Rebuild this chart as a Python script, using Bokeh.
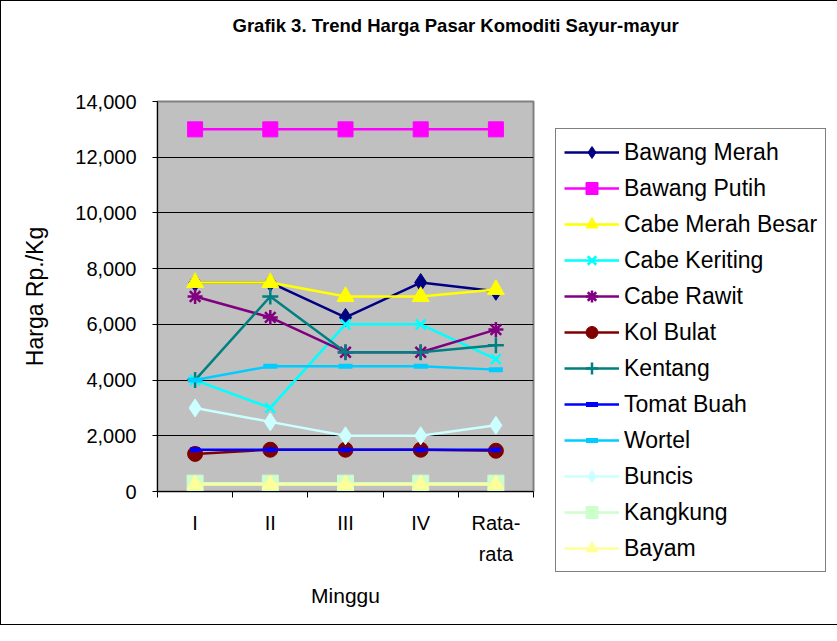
from bokeh.plotting import figure
from bokeh.models import Range1d, FixedTicker, NumeralTickFormatter, Legend, LegendItem
from bokeh.embed import file_html
from bokeh.resources import INLINE

# ---- data ----
week_labels = ["I", "II", "III", "IV", "Rata-\nrata"]
week_pos = [1, 2, 3, 4, 5]

bawang_merah = [7500, 7500, 6250, 7500, 7187.5]
bawang_putih = [13000, 13000, 13000, 13000, 13000]
cabe_merah_besar = [7500, 7500, 7000, 7000, 7250]
cabe_keriting = [4000, 3000, 6000, 6000, 4750]
cabe_rawit = [7000, 6250, 5000, 5000, 5812.5]
kol_bulat = [1350, 1500, 1500, 1500, 1462.5]
kentang = [4000, 7000, 5000, 5000, 5250]
tomat_buah = [1500, 1500, 1500, 1500, 1500]
wortel = [4000, 4500, 4500, 4500, 4375]
buncis = [3000, 2500, 2000, 2000, 2375]
kangkung = [300, 300, 300, 300, 300]
bayam = [250, 250, 250, 250, 250]

y_ticks = [0, 2000, 4000, 6000, 8000, 10000, 12000, 14000]

series = [
    ("Bawang Merah", bawang_merah, "#000080", "diamond", 18, "#000080"),
    ("Bawang Putih", bawang_putih, "#FF00FF", "square", 15, "#FF00FF"),
    ("Cabe Merah Besar", cabe_merah_besar, "#FFFF00", "triangle", 17, "#FFFF00"),
    ("Cabe Keriting", cabe_keriting, "#00FFFF", "x", 14, None),
    ("Cabe Rawit", cabe_rawit, "#800080", "asterisk", 15, None),
    ("Kol Bulat", kol_bulat, "#800000", "circle", 15, "#800000"),
    ("Kentang", kentang, "#008080", "cross", 16, None),
    ("Tomat Buah", tomat_buah, "#0000FF", "dash", 10, None),
    ("Wortel", wortel, "#00CCFF", "dash", 14, None),
    ("Buncis", buncis, "#CCFFFF", "diamond", 18, "#CCFFFF"),
    ("Kangkung", kangkung, "#CCFFCC", "square", 16, "#CCFFCC"),
    ("Bayam", bayam, "#FFFF99", "triangle", 16, "#FFFF99"),
]

FONT = "Liberation Sans"

p = figure(frame_width=376, frame_height=390, output_backend="svg", toolbar_location=None,
           x_range=Range1d(0.5, 5.5), y_range=Range1d(0, 14000),
           min_border_left=156, min_border_right=200,
           min_border_top=100, min_border_bottom=133)
p.styles = {"border": "1px solid black"}

p.background_fill_color = "#C0C0C0"
p.border_fill_color = "white"
p.outline_line_color = "#808080"
p.outline_line_width = 2

# title (two trailing blank lines lift the text away from the plot area)
p.title.text = "Grafik 3. Trend Harga Pasar Komoditi  Sayur-mayur\n \n "
p.title.align = "left"
p.title.offset = 75
p.title.standoff = 10
p.title.text_font = FONT
p.title.text_font_size = "18.5px"
p.title.text_line_height = 1.43
p.title.text_font_style = "bold"
p.title.text_color = "black"

p.xgrid.visible = False
p.ygrid.ticker = FixedTicker(ticks=y_ticks)
p.ygrid.grid_line_color = "black"
p.ygrid.grid_line_width = 1

# y axis
ya = p.yaxis[0]
ya.ticker = FixedTicker(ticks=y_ticks)
ya.formatter = NumeralTickFormatter(format="0,0")
ya.major_tick_out = 5
ya.major_tick_in = 0
ya.minor_tick_line_color = None
ya.axis_line_color = "black"
ya.major_tick_line_color = "black"
ya.major_label_text_font = FONT
ya.major_label_text_font_size = "20px"
ya.major_label_text_color = "black"
ya.major_label_standoff = 16
ya.axis_label = "Harga Rp./Kg"
ya.axis_label_text_font = FONT
ya.axis_label_text_font_size = "23px"
ya.axis_label_text_font_style = "normal"
ya.axis_label_text_color = "black"
ya.axis_label_standoff = 24

# x axis
xa = p.xaxis[0]
xa.ticker = FixedTicker(ticks=week_pos, minor_ticks=[0.5, 1.5, 2.5, 3.5, 4.5, 5.5])
xa.major_label_overrides = {pos: lab for pos, lab in zip(week_pos, week_labels)}
xa.major_tick_line_color = None
xa.major_tick_out = 0
xa.major_tick_in = 0
xa.minor_tick_line_color = "black"
xa.minor_tick_out = 6
xa.minor_tick_in = 0
xa.axis_line_color = "black"
xa.major_label_text_font = FONT
xa.major_label_text_font_size = "20px"
xa.major_label_text_color = "black"
xa.major_label_text_line_height = 1.45
xa.major_label_standoff = 14
xa.axis_label = "Minggu"
xa.axis_label_text_font = FONT
xa.axis_label_text_font_size = "21px"
xa.axis_label_text_font_style = "normal"
xa.axis_label_text_color = "black"
xa.axis_label_standoff = 16

items = []
for name, vals, color, marker, size, fill in series:
    r_line = p.line(week_pos, vals, line_color=color, line_width=2.5)
    if marker == "dash":
        r_mark = p.scatter(week_pos, vals, marker="dash", size=size,
                           line_color=color, line_width=5)
    elif fill is None:
        r_mark = p.scatter(week_pos, vals, marker=marker, size=size,
                           line_color=color, line_width=2.5, fill_color=None)
    else:
        r_mark = p.scatter(week_pos, vals, marker=marker, size=size,
                           line_color=color, fill_color=fill, line_width=1)
    items.append(LegendItem(label=name, renderers=[r_line, r_mark]))

legend = Legend(items=items, location=(22, -81))
legend.border_line_color = "black"
legend.border_line_width = 1
legend.background_fill_color = "white"
legend.background_fill_alpha = 1
legend.label_text_font = FONT
legend.label_text_font_size = "23px"
legend.label_text_color = "black"
legend.glyph_width = 55
legend.glyph_height = 30
legend.label_height = 30
legend.spacing = 6
legend.padding = 8
legend.margin = 0
legend.label_standoff = 5
p.add_layout(legend, "right")

open("out.html", "w").write(file_html(p, INLINE))
